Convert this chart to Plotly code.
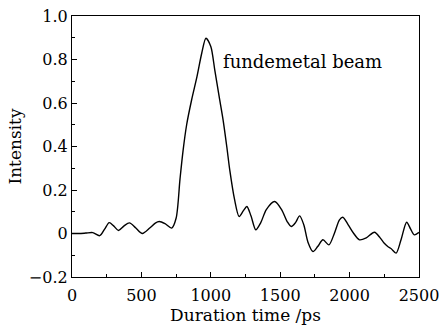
import plotly.graph_objects as go

time_ps = [0, 50, 100, 150, 200, 235, 268, 300, 335, 375, 414, 460, 507, 560, 600, 629, 670, 718,
           750, 778, 800, 826, 862, 900, 935, 965, 1000, 1029, 1060, 1089, 1115, 1137, 1170, 1204,
           1235, 1260, 1290, 1324, 1360, 1400, 1460, 1510, 1550, 1580, 1610, 1640, 1670, 1700, 1736,
           1770, 1808, 1851, 1890, 1927, 1951, 1990, 2030, 2071, 2120, 2179, 2220, 2250, 2275, 2300,
           2335, 2370, 2411, 2440, 2466, 2500]
intensity = [0.0, 0.0, 0.002, 0.004, -0.01, 0.02, 0.05, 0.035, 0.014, 0.035, 0.049, 0.025, 0.0,
             0.025, 0.048, 0.055, 0.045, 0.025, 0.07, 0.25, 0.38, 0.50, 0.615, 0.72, 0.83, 0.898,
             0.86, 0.75, 0.63, 0.52, 0.40, 0.29, 0.16, 0.078, 0.105, 0.124, 0.08, 0.017, 0.05, 0.11,
             0.147, 0.11, 0.055, 0.032, 0.05, 0.081, 0.04, -0.04, -0.083, -0.06, -0.029, -0.052,
             0.0, 0.063, 0.075, 0.04, 0.0, -0.029, -0.02, 0.006, -0.02, -0.045, -0.06, -0.07,
             -0.09, -0.03, 0.052, 0.02, -0.006, 0.005]

x_ticks = [0, 500, 1000, 1500, 2000, 2500]
y_ticks = [-0.2, 0, 0.2, 0.4, 0.6, 0.8, 1.0]
y_tick_text = ["\u22120.2", "0", "0.2", "0.4", "0.6", "0.8", "1.0"]
label_text = "fundemetal beam"

FONT = "DejaVu Serif"
FS_TICK = 16
FS_TITLE = 17

fig = go.Figure()
fig.add_trace(go.Scatter(x=time_ps, y=intensity, mode="lines",
                         line=dict(color="black", width=1.4, shape="spline", smoothing=0.8),
                         showlegend=False, hoverinfo="skip"))

fig.add_annotation(x=1075, y=0.79, text=label_text, showarrow=False,
                   xanchor="left", yanchor="middle",
                   font=dict(family=FONT, size=18, color="black"))

axis_common = dict(showline=True, linecolor="black", linewidth=1.2, mirror=True,
                   showgrid=False, zeroline=False, ticks="inside", ticklen=5,
                   tickcolor="black", tickwidth=1, automargin=False,
                   ticklabeloverflow="allow",
                   tickfont=dict(family=FONT, size=FS_TICK, color="black"))

fig.update_xaxes(range=[0, 2500], tickvals=x_ticks, **axis_common, ticklabelstandoff=4,
                 minor=dict(ticks="inside", ticklen=3, dtick=250, tickcolor="black", showgrid=False),
                 title=dict(text="Duration time /ps", font=dict(family=FONT, size=FS_TITLE, color="black"),
                            standoff=1))
fig.update_yaxes(range=[-0.2, 1.0], tickvals=y_ticks, ticktext=y_tick_text, **axis_common,
                 minor=dict(ticks="inside", ticklen=3, dtick=0.1, tickcolor="black", showgrid=False),
                 title=dict(text="Intensity", font=dict(family=FONT, size=FS_TITLE, color="black"),
                            standoff=2))

fig.update_layout(width=440, height=325, margin=dict(l=72, r=21, t=16, b=48),
                  paper_bgcolor="white", plot_bgcolor="white")

fig.write_html("out.html", config={"displayModeBar": False},
               post_script="document.body.style.margin='0px';")
